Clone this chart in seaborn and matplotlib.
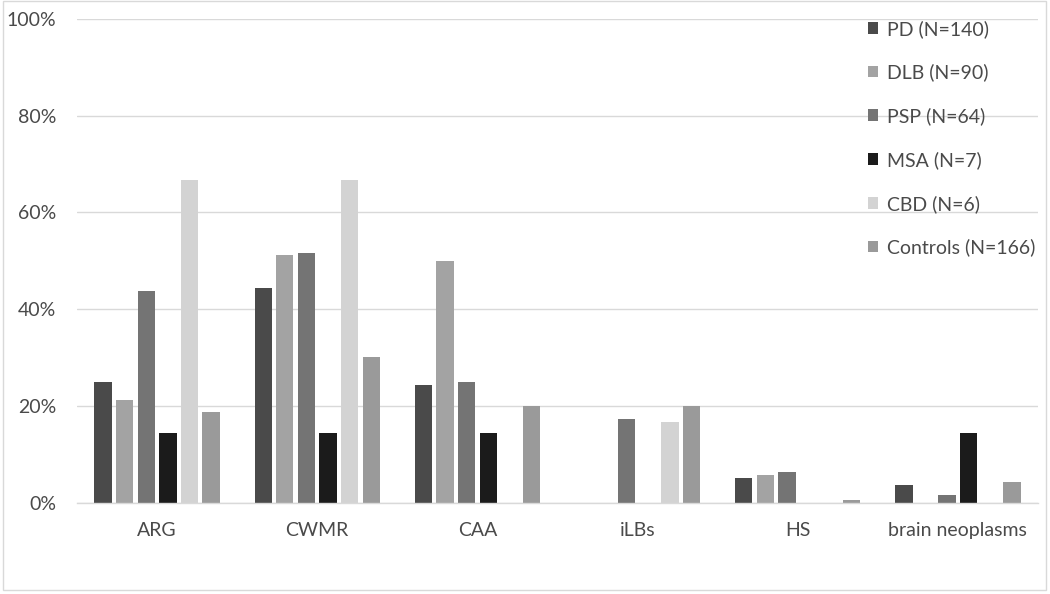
import matplotlib
matplotlib.use("Agg")
import matplotlib.pyplot as plt
import seaborn as sns
import pandas as pd
from matplotlib.patches import Rectangle

categories = ["ARG", "CWMR", "CAA", "iLBs", "HS", "brain neoplasms"]
groups = ["PD (N=140)", "DLB (N=90)", "PSP (N=64)", "MSA (N=7)", "CBD (N=6)", "Controls (N=166)"]
pd_vals = [25.0, 44.3, 24.3, 0.0, 5.0, 3.6]
dlb_vals = [21.1, 51.1, 50.0, 0.0, 5.6, 0.0]
psp_vals = [43.8, 51.6, 25.0, 17.2, 6.3, 1.6]
msa_vals = [14.3, 14.3, 14.3, 0.0, 0.0, 14.3]
cbd_vals = [66.7, 66.7, 0.0, 16.7, 0.0, 0.0]
ctrl_vals = [18.7, 30.1, 19.9, 19.9, 0.6, 4.2]
colors = ["#4a4a4a", "#a3a3a3", "#747474", "#1b1b1b", "#d3d3d3", "#9a9a9a"]

series = [pd_vals, dlb_vals, psp_vals, msa_vals, cbd_vals, ctrl_vals]
rows = []
for g, vals in zip(groups, series):
    for c, v in zip(categories, vals):
        rows.append({"category": c, "group": g, "value": v})
df = pd.DataFrame(rows)

sns.set_theme(style="white")
plt.rcParams["font.family"] = ["Lato", "DejaVu Sans"]
text_color = "#4a4a4a"
fs = 14

fig = plt.figure(figsize=(10.5, 5.94), dpi=100)
ax = fig.add_axes([77/1050, 1-502.5/594, 961/1050, (502.5-19)/594])

sns.barplot(data=df, x="category", y="value", hue="group", order=categories,
            hue_order=groups, palette=colors, width=0.81, ax=ax,
            saturation=1, edgecolor="none", linewidth=0)

# shrink bars to leave gaps between them (Excel style)
for p in ax.patches:
    w = p.get_width()
    if w <= 0:
        continue
    cx = p.get_x() + w / 2
    nw = w * 0.8
    p.set_x(cx - nw / 2)
    p.set_width(nw)

ax.set_xlim(-0.5, len(categories) - 0.5)
ax.set_ylim(0, 100)
ax.set_yticks([0, 20, 40, 60, 80, 100])
ax.set_yticklabels([f"{t}%" for t in [0, 20, 40, 60, 80, 100]])
ax.yaxis.grid(True, color="#d9d9d9", linewidth=1)
ax.set_axisbelow(True)
for s in ["top", "right", "left"]:
    ax.spines[s].set_visible(False)
ax.spines["bottom"].set_color("#d9d9d9")
ax.spines["bottom"].set_linewidth(1)
ax.tick_params(axis="both", length=0, labelsize=fs, colors=text_color)
ax.tick_params(axis="y", pad=15)
ax.tick_params(axis="x", pad=14)
ax.set_xlabel("")
ax.set_ylabel("")

leg = ax.legend(loc="upper left", bbox_to_anchor=(783/961, 1.0 + 7/483.5),
                frameon=False, fontsize=fs, labelspacing=1.33,
                handlelength=0.55, handleheight=0.55, handletextpad=0.45,
                borderaxespad=0)
for t in leg.get_texts():
    t.set_color(text_color)

fig.patches.append(Rectangle((3/1050, 1-590/594), 1043/1050, 589/594,
                             transform=fig.transFigure, fill=False,
                             edgecolor="#d9d9d9", linewidth=1))

fig.savefig("out.png", dpi=100)
